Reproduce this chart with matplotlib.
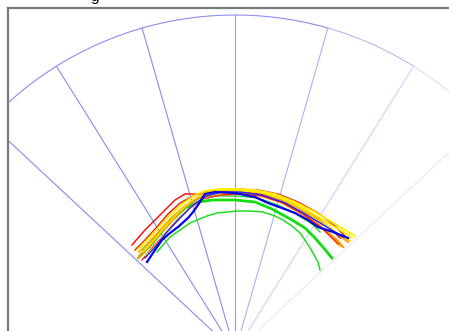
import numpy as np
import matplotlib
matplotlib.use("Agg")
import matplotlib.pyplot as plt

# ---------------- data (x, y in display units, apex of sector at (0, -0.7)) ----------------
grid_angles_deg = [-47, -32, -16, 0, 16, 32, 47]
sector_radius = 33.7

red_outer_x = [-10.3, -9.7, -9.0, -8.0, -7.0, -6.0, -5.0, -3.7, -2.0, 0.0, 2.0, 4.0, 6.0, 8.0, 9.5, 10.5]
red_outer_y = [10.0, 10.7, 11.5, 12.5, 13.5, 14.5, 15.1, 15.1, 15.3, 15.4, 15.2, 14.8, 14.0, 12.9, 11.7, 10.7]

yellow_top_x = [-9.8, -8.8, -7.7, -6.5, -5.3, -4.0, -3.0, -1.5, 0.0, 2.0, 4.0, 6.0, 8.0, 10.0, 12.0]
yellow_top_y = [9.5, 10.5, 11.7, 13.0, 14.1, 15.0, 15.4, 15.6, 15.6, 15.5, 15.1, 14.3, 13.3, 12.1, 10.9]

blue_dark_x = [-8.8, -8.0, -7.3, -6.5, -5.7, -4.7, -4.2, -3.7, -3.0, -2.0, 0.0, 2.0, 3.3, 4.7, 6.0, 7.3, 8.3, 9.8, 11.3]
blue_dark_y = [8.3, 9.5, 10.5, 11.2, 11.8, 12.7, 13.3, 14.0, 15.1, 15.3, 15.2, 14.8, 14.2, 13.7, 13.2, 12.5, 11.8, 11.3, 10.7]

green_inner_x = [-7.8, -7.2, -6.5, -5.5, -4.5, -3.8, -2.8, -1.8, 0.2, 1.5, 2.8, 4.0, 4.8, 5.7, 6.5, 7.2, 7.8, 8.3, 8.5]
green_inner_y = [9.3, 10.0, 10.8, 11.5, 12.2, 12.5, 12.9, 13.2, 13.4, 13.4, 13.3, 12.9, 12.5, 11.9, 11.2, 10.2, 9.2, 8.3, 7.5]

green_thick_x = [-9.5, -8.5, -7.5, -6.3, -5.0, -3.7, -2.3, 0.0, 2.0, 3.7, 5.7, 7.0, 8.0, 8.7, 9.7]
green_thick_y = [8.9, 9.9, 11.1, 12.5, 13.7, 14.3, 14.5, 14.5, 14.3, 13.6, 12.5, 11.7, 10.7, 9.9, 8.7]

orange1_x = [-9.7, -8.7, -7.7, -6.5, -5.2, -3.8, -2.3, 0.0, 2.3, 4.5, 6.5, 8.5, 10.3, 10.8]
orange1_y = [8.7, 9.8, 11.0, 12.3, 13.7, 14.7, 15.2, 15.3, 15.1, 14.4, 13.3, 11.9, 10.4, 9.8]

orange2_x = [-9.4, -8.3, -7.2, -5.9, -4.5, -3.2, -1.7, 0.0, 2.1, 4.3, 6.3, 8.3, 10.1, 11.3]
orange2_y = [9.1, 10.2, 11.5, 12.9, 14.2, 15.0, 15.3, 15.4, 15.3, 14.7, 13.7, 12.5, 11.2, 10.3]

orange3_x = [-9.6, -8.6, -7.5, -6.3, -4.9, -3.5, -1.9, 0.1, 2.3, 4.5, 6.5, 8.3, 9.8, 10.5]
orange3_y = [9.3, 10.3, 11.5, 12.8, 14.0, 14.8, 15.2, 15.2, 15.0, 14.3, 13.2, 12.0, 10.7, 9.9]

red2_x = [-10.0, -9.0, -7.9, -6.7, -5.5, -4.2, -2.7, 0.0, 2.3, 4.3, 6.3, 8.3, 10.0, 11.0]
red2_y = [9.5, 10.5, 11.7, 13.1, 14.2, 14.9, 15.4, 15.6, 15.5, 15.1, 14.3, 13.2, 11.9, 10.9]

red3_x = [-9.3, -8.3, -7.1, -5.8, -4.5, -3.2, -1.5, 0.5, 2.7, 4.8, 6.8, 8.7, 10.3]
red3_y = [8.5, 9.7, 11.0, 12.5, 13.7, 14.6, 15.0, 15.1, 14.9, 14.2, 13.1, 11.7, 10.1]

yellow2_x = [-9.2, -8.1, -6.9, -5.7, -4.4, -3.0, -1.3, 0.5, 2.5, 4.7, 6.7, 8.7, 10.5, 11.5]
yellow2_y = [9.3, 10.5, 11.9, 13.2, 14.4, 15.2, 15.5, 15.5, 15.3, 14.6, 13.6, 12.3, 11.0, 10.4]

yellow3_x = [-8.9, -7.8, -6.7, -5.4, -4.1, -2.7, -1.0, 1.0, 3.0, 5.3, 7.3, 9.3, 11.0, 11.7]
yellow3_y = [8.9, 10.1, 11.4, 12.8, 14.1, 14.9, 15.3, 15.4, 15.2, 14.5, 13.4, 12.2, 11.2, 10.7]

green3_x = [-9.3, -8.3, -7.3, -6.2, -5.0, -3.7, -2.1, 0.1, 2.3, 4.3, 6.1, 7.7, 8.5]
green3_y = [9.5, 10.5, 11.6, 12.8, 13.9, 14.6, 14.9, 14.9, 14.7, 14.0, 13.1, 12.1, 11.3]

blue2_x = [-9.0, -7.9, -6.8, -5.5, -4.2, -2.8, -1.3, 0.5, 2.7, 5.0, 7.0, 9.0, 10.8]
blue2_y = [8.7, 9.9, 11.3, 12.7, 14.0, 14.9, 15.3, 15.3, 15.0, 14.2, 13.1, 11.9, 10.8]

# ---------------- figure ----------------
W, H = 449, 331
fig = plt.figure(figsize=(W / 100, H / 100), dpi=100)
fig.patch.set_facecolor("white")

left_px, top_px = 8, 8
ax = fig.add_axes([left_px / W, -0.05, 1.0, (H - top_px) / H + 0.05])
ax.set_facecolor("white")

apex = (0.0, -0.7)
px_per_unit = 10.0
x0 = (left_px - 235) / px_per_unit
x1 = x0 + W / px_per_unit
y1 = (345 - top_px) / px_per_unit
y0 = y1 - ((H - top_px) + 0.05 * H) / px_per_unit
ax.set_xlim(x0, x1)
ax.set_ylim(y0, y1)

for s in ["right", "bottom"]:
    ax.spines[s].set_visible(False)
for s in ["left", "top"]:
    ax.spines[s].set_color("#7a7a7a")
    ax.spines[s].set_linewidth(1.6)
ax.set_xticks([])
ax.set_yticks([])

# sector grid
line_colors = {-47: "#8a8af0", -32: "#8a8af0", -16: "#8a8af0", 0: "#9494f2",
               16: "#afaff3", 32: "#cfcff7", 47: "#e8e8f4"}
for a in grid_angles_deg:
    t = np.deg2rad(a)
    ax.plot([apex[0], apex[0] + sector_radius * np.sin(t)],
            [apex[1], apex[1] + sector_radius * np.cos(t)],
            color=line_colors[a], lw=0.8, zorder=1)

arc_segments = [(-60, 16, "#8c8cf1"), (16, 32, "#b8b8f4"), (32, 60, "#dcdcf7")]
for a0, a1, c in arc_segments:
    t = np.deg2rad(np.linspace(a0, a1, 200))
    ax.plot(apex[0] + sector_radius * np.sin(t), apex[1] + sector_radius * np.cos(t),
            color=c, lw=0.8, zorder=1)

# curves
curves = [
    (green_inner_x, green_inner_y, "#22dd22", 1.1),
    (green_thick_x, green_thick_y, "#11dd11", 2.0),
    (green3_x, green3_y, "#33cc33", 1.0),
    (orange1_x, orange1_y, "#ff9900", 1.6),
    (orange3_x, orange3_y, "#ffaa00", 1.2),
    (red3_x, red3_y, "#ff2200", 1.0),
    (red_outer_x, red_outer_y, "#ff0000", 1.0),
    (orange2_x, orange2_y, "#ff8800", 1.2),
    (red2_x, red2_y, "#ee1111", 1.0),
    (yellow2_x, yellow2_y, "#ffdd00", 1.2),
    (yellow3_x, yellow3_y, "#ffee00", 1.2),
    (yellow_top_x, yellow_top_y, "#ffee00", 1.4),
    (blue2_x, blue2_y, "#2222ff", 1.0),
    (blue_dark_x, blue_dark_y, "#0000ee", 1.6),
]
for xs, ys, c, lw in curves:
    ax.plot(xs, ys, color=c, lw=lw, zorder=3, solid_joinstyle="miter")

# clipped title remnant
fig.text(95 / W, 1 - 1.0 / H, "g", ha="center", va="baseline", fontsize=11,
         family="Liberation Sans", color="black")

fig.savefig("out.png", dpi=100, facecolor="white")
